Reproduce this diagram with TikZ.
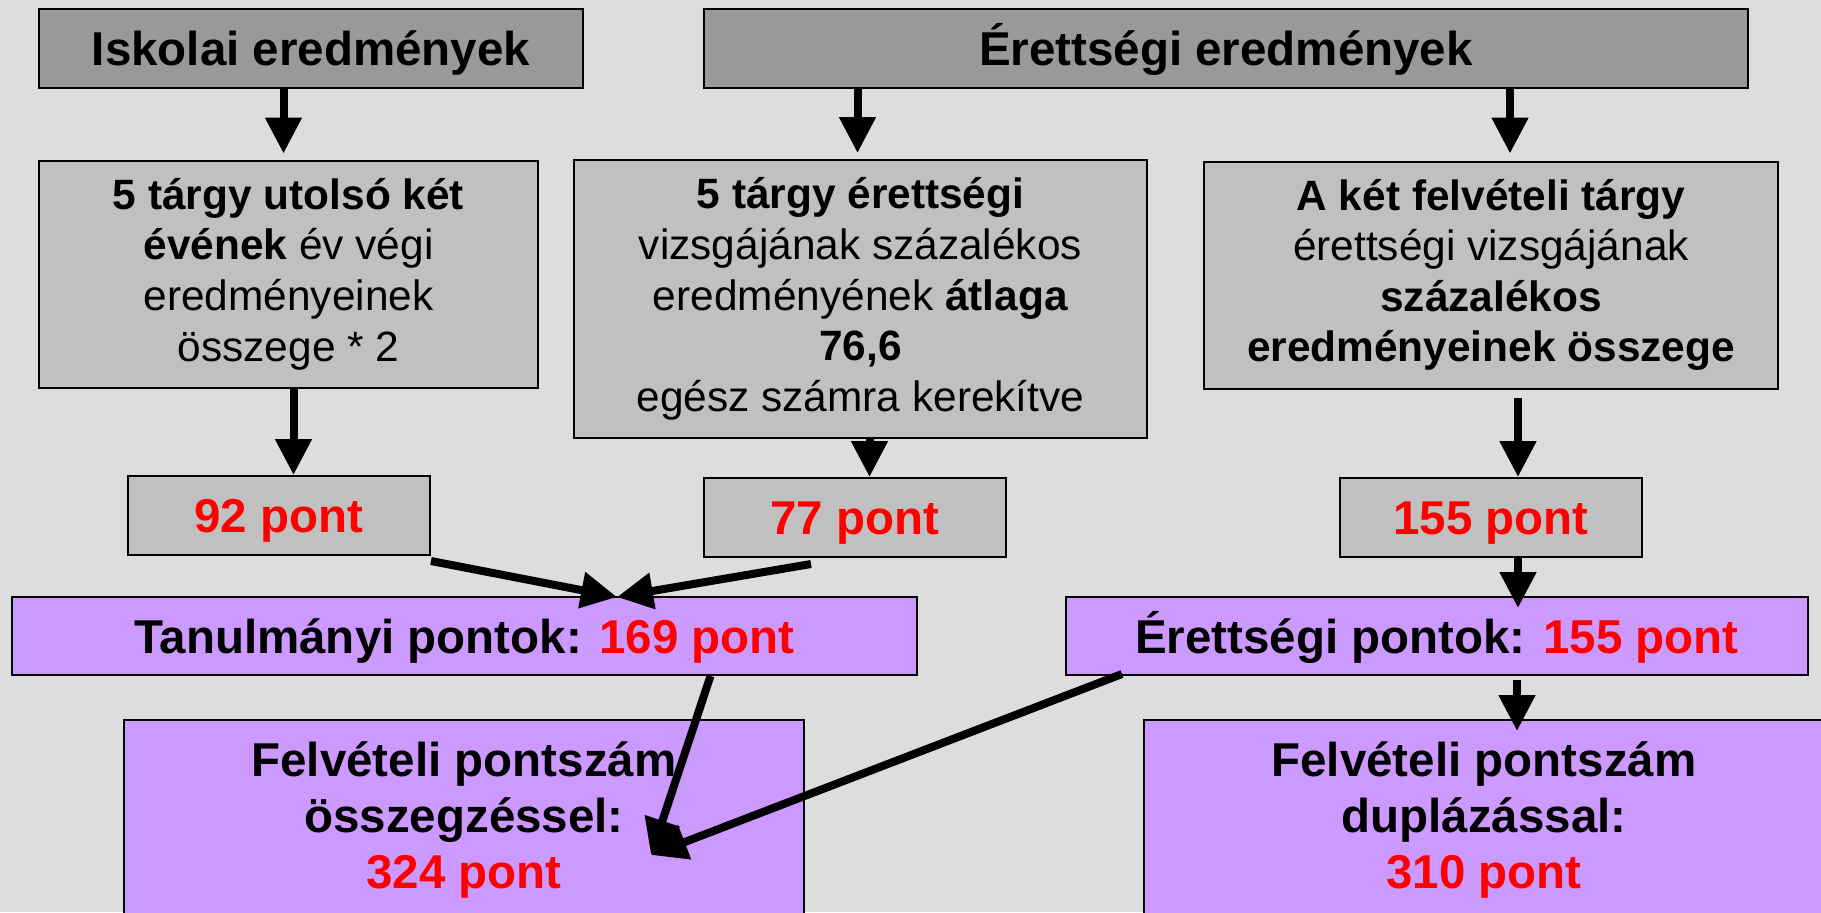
\documentclass[tikz,border=0pt]{standalone}
\usepackage{fontspec}
\setmainfont{Liberation Sans}
\usetikzlibrary{arrows.meta}

\definecolor{bgcol}{HTML}{DDDDDD}
\definecolor{headgray}{HTML}{999999}
\definecolor{boxgray}{HTML}{C0C0C0}
\definecolor{lila}{HTML}{CC99FF}
\definecolor{ptred}{HTML}{FF0000}

\def\px{0.5pt}

\tikzset{
  box/.style={draw=black, line width=1pt, rectangle, inner sep=0pt, align=center},
  bigtext/.style={font=\fontsize{23.75}{28}\selectfont\bfseries},
  smalltext/.style={font=\fontsize{21.2}{25.3}\selectfont},
  oneline/.style={text height=17pt, text depth=0pt},
  arr/.style={line width=4pt, -{Triangle[length=18pt,width=17.5pt]}},
}

\begin{document}
\begin{tikzpicture}[x=\px, y=-\px]
      \useasboundingbox (0,0) rectangle (1821,912);
      \clip (0,0) rectangle (1821,912);
      \fill[bgcol] (0,0) rectangle (1821,912);
      \node[box, bigtext, oneline, fill=headgray, minimum width=272pt, minimum height=39.5pt] (isk) at (311,48.5) {Iskolai eredmények};
      \node[box, bigtext, oneline, fill=headgray, minimum width=522pt, minimum height=39.5pt] (ere) at (1226,48.5) {Érettségi eredmények};
      \node[box, smalltext, fill=boxgray, minimum width=249.5pt, minimum height=113.5pt] (boxA) at (288.5,274)
        {\textbf{5 tárgy utolsó két}\\ \textbf{évének} év végi\\ eredményeinek\\ összege * 2};
      \node[box, smalltext, fill=boxgray, minimum width=286.5pt, minimum height=139pt] (boxB) at (860.5,299)
        {\textbf{5 tárgy érettségi}\\ vizsgájának százalékos\\ eredményének \textbf{átlaga}\\ \textbf{76,6}\\ egész számra kerekítve};
      \node[box, smalltext, fill=boxgray, minimum width=287pt, minimum height=113.5pt] (boxC) at (1491,275)
        {\textbf{A két felvételi tárgy}\\ érettségi vizsgájának\\ \textbf{százalékos}\\ \textbf{eredményeinek összege}};
      \node[box, bigtext, oneline, fill=boxgray, text=ptred, minimum width=151pt, minimum height=39.5pt] (p92) at (279,515.5) {92 pont};
      \node[box, bigtext, oneline, fill=boxgray, text=ptred, minimum width=151pt, minimum height=39.5pt] (p77) at (855,517.5) {77 pont};
      \node[box, bigtext, oneline, fill=boxgray, text=ptred, minimum width=151pt, minimum height=39.5pt] (p155) at (1491,517.5) {155 pont};
      \node[box, bigtext, oneline, fill=lila, minimum width=452.5pt, minimum height=39pt] (tan) at (464.5,636)
        {Tanulmányi pontok: {\color{ptred}169 pont}};
      \node[box, bigtext, oneline, fill=lila, minimum width=371pt, minimum height=39pt] (erp) at (1437,636)
        {Érettségi pontok: {\color{ptred}155 pont}};
      \node[box, bigtext, fill=lila, minimum width=340pt, minimum height=100pt, anchor=north] (osz) at (464,719)
        {Felvételi pontszám\\ összegzéssel:\\ {\color{ptred}324 pont}};
      \node[box, bigtext, fill=lila, minimum width=340pt, minimum height=100pt, anchor=north] (dup) at (1484,719)
        {Felvételi pontszám\\ duplázással:\\ {\color{ptred}310 pont}};
      \coordinate (tantip) at (617,597);
      \coordinate (osztip) at (651,855);
      \draw[arr, shorten >=3pt] ([xshift=-2.5pt]boxA.north |- isk.south) -- ([xshift=-2.5pt]boxA.north);
      \draw[arr, shorten >=3pt] ([xshift=-1.5pt]boxB.north |- ere.south) -- ([xshift=-1.5pt]boxB.north);
      \draw[arr, shorten >=3.5pt] ([xshift=9.5pt]boxC.north |- ere.south) -- ([xshift=9.5pt]boxC.north);
      \draw[arr] ([xshift=2.5pt]boxA.south) -- ([xshift=2.5pt]boxA.south |- p92.north);
      \draw[arr] ([xshift=4.5pt]boxB.south) -- ([xshift=4.5pt]boxB.south |- p77.north);
      \draw[arr, shorten <=4pt] ([xshift=13.5pt]boxC.south) -- ([xshift=13.5pt]boxC.south |- p155.north);
      \draw[arr, shorten >=-6pt] ([xshift=13.5pt]p155.south) -- ([xshift=13.5pt]p155.south |- erp.north);
      \draw[arr, shorten <=2pt, shorten >=-6pt] ([xshift=13pt]p155.south |- erp.south) -- ([xshift=13pt]p155.south |- dup.north);
      \draw[arr] ([yshift=-2.5pt]p92.south east) -- (tantip);
      \draw[arr] ([xshift=-22pt,yshift=-3pt]p77.south) -- (tantip);
      \draw[arr] ([xshift=123pt]tan.south) -- (osztip);
      \draw[arr] ([xshift=28.5pt,yshift=1pt]erp.south west) -- (osztip);
\end{tikzpicture}
\end{document}
